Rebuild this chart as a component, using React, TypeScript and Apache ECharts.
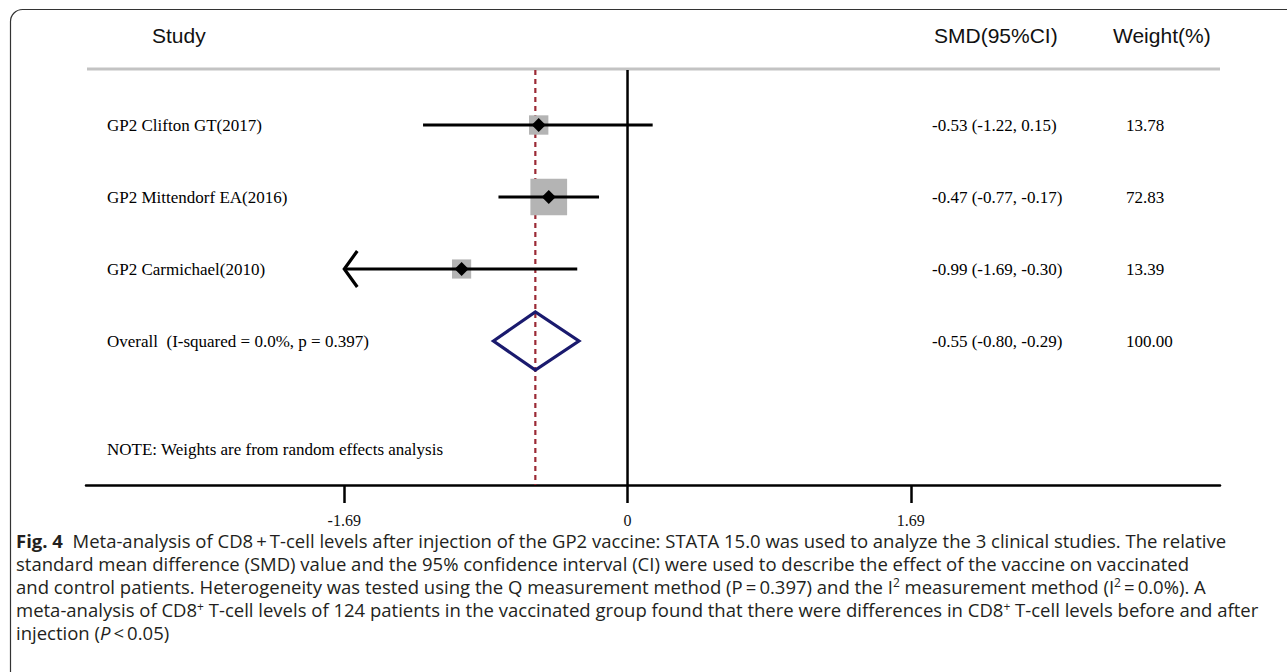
import React, { useEffect, useRef } from "react";
import * as echarts from "echarts";

// ---- data ----
const studies = ["GP2 Clifton GT(2017)", "GP2 Mittendorf EA(2016)", "GP2 Carmichael(2010)"];
const smd = [-0.53, -0.47, -0.99];
const lower = [-1.22, -0.77, -1.69];
const upper = [0.15, -0.17, -0.3];
const weights = [13.78, 72.83, 13.39];
const overallLabel = "Overall  (I-squared = 0.0%, p = 0.397)";
const overallSmd = -0.55;
const overallLower = -0.8;
const overallUpper = -0.29;
const overallWeight = 100.0;
const tickValues = [-1.69, 0, 1.69];
const noteText = "NOTE: Weights are from random effects analysis";
const headers = ["Study", "SMD(95%CI)", "Weight(%)"];
const captionLines = [
  "{b|Fig. 4}  Meta-analysis of CD8\u2009+\u2009T-cell levels after injection of the GP2 vaccine: STATA 15.0 was used to analyze the 3 clinical studies. The relative",
  "standard mean difference (SMD) value and the 95% confidence interval (CI) were used to describe the effect of the vaccine on vaccinated",
  "and control patients. Heterogeneity was tested using the Q measurement method (P\u2009=\u20090.397) and the I{sup|2} measurement method (I{sup|2}\u2009=\u20090.0%). A",
  "meta-analysis of CD8{sup|+} T-cell levels of 124 patients in the vaccinated group found that there were differences in CD8{sup|+} T-cell levels before and after",
  "injection ({i|P}\u2009<\u20090.05)",
];

const SERIF = "'Liberation Serif', 'Times New Roman', serif";
const SANS = "'Liberation Sans', Arial, sans-serif";
const CAP = "'Open Sans', 'Noto Sans', sans-serif";

const fmt = (v: number) => v.toFixed(2);

export default function App() {
  const ref = useRef<HTMLDivElement>(null);
  useEffect(() => {
    if (!ref.current) return;
    const chart = echarts.init(ref.current, undefined, { renderer: "svg" });

    const yMin = -0.764;
    const yMax = 5;
    const xMin = -3.231;
    const xMax = 3.535;
    const labelX = 107;
    const smdX = 932;
    const wX = 1126;
    const arrowLimit = tickValues[0];
    const capSize = 18.5;

    const studyData = studies.map((s, i) => [smd[i], lower[i], upper[i], weights[i], i]);

    const textStyle = (x: number, y: number, t: string) => ({
      type: "text",
      x,
      y,
      style: {
        text: t,
        fill: "#000",
        font: `17px ${SERIF}`,
        textAlign: "left",
        textVerticalAlign: "middle",
      },
    });

    const option: any = {
      animation: false,
      grid: { left: 86, right: 67, top: 70, bottom: 187, containLabel: false },
      xAxis: {
        type: "value",
        min: xMin,
        max: xMax,
        splitLine: { show: false },
        axisLine: { show: true, onZero: false, lineStyle: { color: "#000", width: 2.5 } },
        axisTick: { show: true, customValues: tickValues, length: 18, lineStyle: { color: "#000", width: 2.5 } },
        axisLabel: {
          customValues: tickValues,
          margin: 27,
          formatter: (v: number) => (v === 0 ? "0" : fmt(v)),
          fontFamily: SERIF,
          fontSize: 16,
          color: "#111",
        },
      },
      yAxis: { type: "value", min: yMin, max: yMax, inverse: true, show: false },
      series: [
        {
          type: "line",
          data: [[0, yMin], [0, yMax]],
          symbol: "none",
          lineStyle: { color: "#000", width: 2.5 },
          z: 1,
        },
        {
          type: "line",
          data: [[overallSmd, yMin], [overallSmd, yMax]],
          symbol: "none",
          lineStyle: { color: "#9b2a35", width: 2.2, type: [5, 4] },
          z: 2,
        },
        {
          type: "custom",
          z: 5,
          data: studyData,
          renderItem: (params: any, api: any) => {
            const m = api.value(0);
            const lo = api.value(1);
            const hi = api.value(2);
            const w = api.value(3);
            const row = api.value(4);
            const pm = api.coord([m, row]);
            const pl = api.coord([lo, row]);
            const ph = api.coord([hi, row]);
            const size = 6 + 3.6 * Math.sqrt(w);
            const d = 7;
            const children: any[] = [
              {
                type: "rect",
                shape: { x: pm[0] - size / 2, y: pm[1] - size / 2, width: size, height: size },
                style: { fill: "#b4b4b4" },
              },
              {
                type: "line",
                shape: { x1: pl[0], y1: pl[1], x2: ph[0], y2: ph[1] },
                style: { stroke: "#000", lineWidth: 3.2 },
              },
              {
                type: "polygon",
                shape: { points: [[pm[0] - d, pm[1]], [pm[0], pm[1] - d], [pm[0] + d, pm[1]], [pm[0], pm[1] + d]] },
                style: { fill: "#000" },
              },
              textStyle(labelX, pm[1], studies[params.dataIndex]),
              textStyle(smdX, pm[1], `${fmt(m)} (${fmt(lo)}, ${fmt(hi)})`),
              textStyle(wX, pm[1], fmt(w)),
            ];
            if (lo <= arrowLimit) {
              children.push({
                type: "polyline",
                shape: { points: [[pl[0] + 13, pl[1] - 18], [pl[0], pl[1]], [pl[0] + 13, pl[1] + 18]] },
                style: { stroke: "#000", lineWidth: 3.2, fill: "none" },
              });
            }
            return { type: "group", children };
          },
        },
        {
          type: "custom",
          z: 5,
          data: [[overallSmd, overallLower, overallUpper, overallWeight, studies.length]],
          renderItem: (params: any, api: any) => {
            const m = api.value(0);
            const lo = api.value(1);
            const hi = api.value(2);
            const w = api.value(3);
            const row = api.value(4);
            const pm = api.coord([m, row]);
            const pl = api.coord([lo, row]);
            const ph = api.coord([hi, row]);
            const h = 29;
            return {
              type: "group",
              children: [
                {
                  type: "polygon",
                  shape: { points: [[pl[0], pl[1]], [pm[0], pm[1] - h], [ph[0], ph[1]], [pm[0], pm[1] + h]] },
                  style: { fill: "none", stroke: "#1a1a6e", lineWidth: 3.2, lineJoin: "miter" },
                },
                textStyle(labelX, pm[1], overallLabel),
                textStyle(smdX, pm[1], `${fmt(m)} (${fmt(lo)}, ${fmt(hi)})`),
                textStyle(wX, pm[1], fmt(w)),
              ],
            };
          },
        },
        {
          type: "custom",
          z: 5,
          data: [[0, 4.5]],
          renderItem: (params: any, api: any) => {
            const p = api.coord([0, api.value(1)]);
            return { type: "group", children: [textStyle(labelX, p[1], noteText)] };
          },
        },
      ],
      graphic: [
        {
          type: "rect",
          shape: { x: 10.5, y: 9.5, width: 1500, height: 900, r: [12, 0, 0, 0] },
          style: { fill: "none", stroke: "#333", lineWidth: 1.2 },
          silent: true,
        },
        {
          type: "line",
          shape: { x1: 87, y1: 69, x2: 1220, y2: 69 },
          style: { stroke: "#c3c3c3", lineWidth: 3 },
        },
        {
          type: "text",
          x: 152,
          y: 35,
          style: { text: headers[0], font: `21px ${SANS}`, fill: "#111", textVerticalAlign: "middle" },
        },
        {
          type: "text",
          x: 934,
          y: 35,
          style: { text: headers[1], font: `21px ${SANS}`, fill: "#111", textVerticalAlign: "middle" },
        },
        {
          type: "text",
          x: 1113,
          y: 35,
          style: { text: headers[2], font: `21px ${SANS}`, fill: "#111", textVerticalAlign: "middle" },
        },
        ...captionLines.map((line, i) => ({
          type: "text",
          x: 16,
          y: 540 + i * 23.2,
          style: {
            text: line,
            fill: "#231f20",
            fontFamily: CAP,
            fontSize: capSize,
            verticalAlign: "middle",
            rich: {
              b: { fontWeight: "bold", fontSize: capSize, fontFamily: CAP, fill: "#231f20" },
              i: { fontStyle: "italic", fontSize: capSize, fontFamily: CAP, fill: "#231f20" },
              sup: { fontSize: 12, fontFamily: CAP, fill: "#231f20", verticalAlign: "top", padding: [0, 0, 6, 0] },
            },
          },
        })),
      ],
    };

    chart.setOption(option);
    return () => chart.dispose();
  }, []);

  return (
    <div
      ref={ref}
      style={{ position: "absolute", left: 0, top: 0, width: 1287, height: 672, background: "#fff" }}
    />
  );
}
